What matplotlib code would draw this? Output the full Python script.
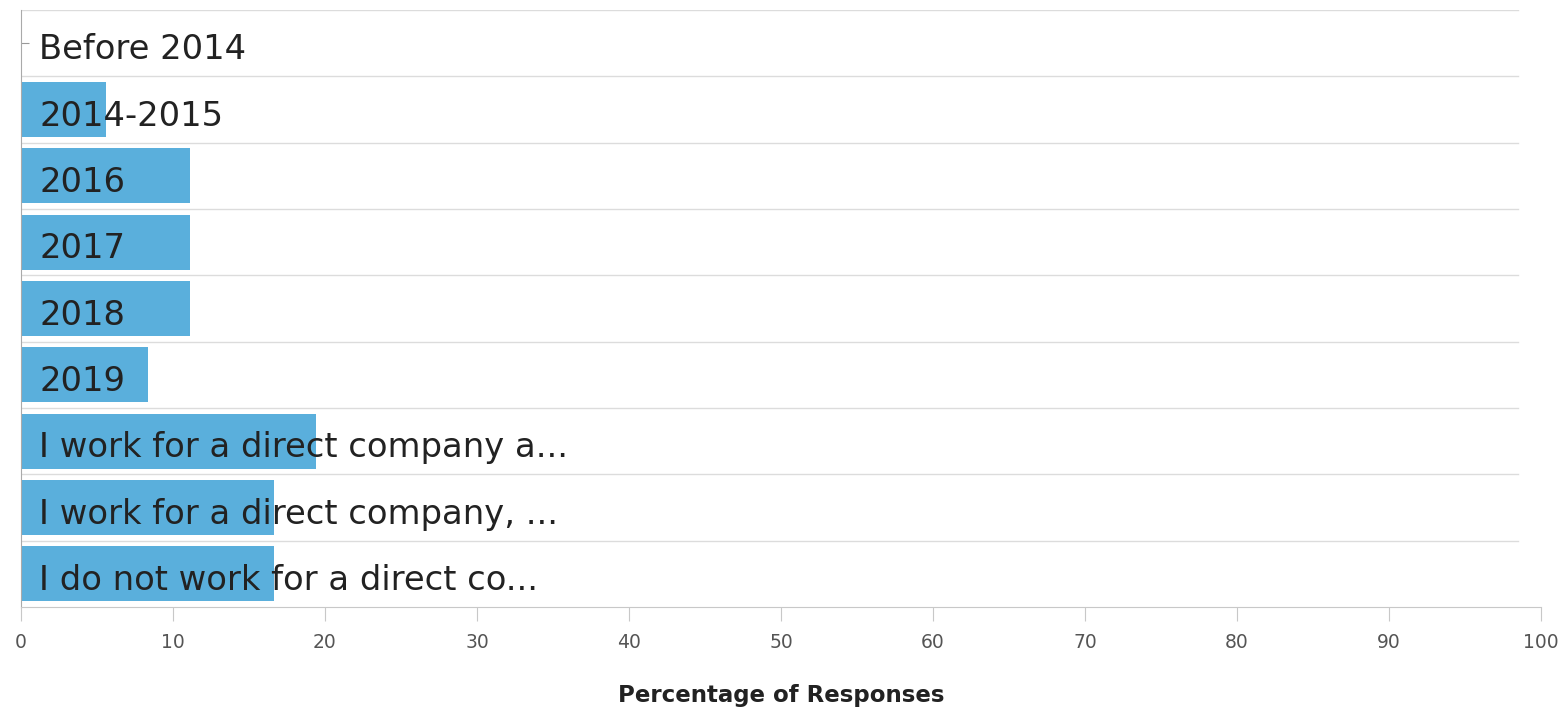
import matplotlib.pyplot as plt
import numpy as np

categories = [
    "Before 2014",
    "2014-2015",
    "2016",
    "2017",
    "2018",
    "2019",
    "I work for a direct company a...",
    "I work for a direct company, ...",
    "I do not work for a direct co...",
]
# share of 36 responses, in percent
percent = [0.0, 5.56, 11.11, 11.11, 11.11, 8.33, 19.44, 16.67, 16.67]
xticks = [0, 10, 20, 30, 40, 50, 60, 70, 80, 90, 100]

bar_color = "#5aafdc"
grid_color = "#dcdcdc"

fig = plt.figure(figsize=(15.68, 7.12), dpi=100)
ax = fig.add_axes([21 / 1568, 105 / 712, 1520 / 1568, 597 / 712])

y = np.arange(len(categories))
ax.barh(y, percent, height=0.83, color=bar_color, zorder=2)

# row separators
for b in np.arange(-0.5, len(categories) - 1, 1.0):
    ax.axhline(b, xmin=0, xmax=0.985, color=grid_color, lw=1, zorder=1)

for yi, name in zip(y, categories):
    ax.text(1.2, yi + 0.1, name, va="center", ha="left", fontsize=24.3,
            color="#222222", zorder=3)

ax.set_xlim(0, 100)
ax.set_ylim(len(categories) - 0.5, -0.5)
ax.set_xticks(xticks)
ax.set_xticklabels([str(t) for t in xticks], fontsize=13.5, color="#555555")
ax.set_yticks(y)
ax.set_yticklabels([])
ax.tick_params(axis="x", length=10, color="#c8c8c8", pad=9)
ax.tick_params(axis="y", length=6, color="#999999", direction="in")

for side in ["top", "right"]:
    ax.spines[side].set_visible(False)
ax.spines["bottom"].set_color("#c8c8c8")
ax.spines["left"].set_color("#aaaaaa")

ax.set_xlabel("Percentage of Responses", fontsize=16.5, fontweight="bold",
              color="#222222", labelpad=23)

fig.savefig("out.png", dpi=100, facecolor="white")
